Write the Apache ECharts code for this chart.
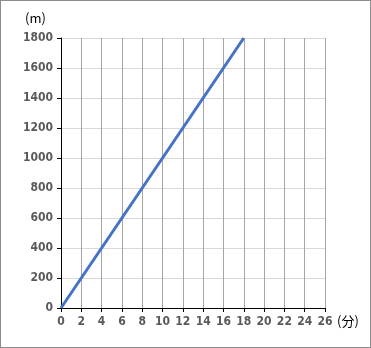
<!DOCTYPE html>
<html><head><meta charset="utf-8">
<script src="https://cdn.jsdelivr.net/npm/echarts@6/dist/echarts.min.js"></script>
<style>html,body{margin:0;padding:0;background:#fff}#c{width:371px;height:348px;box-sizing:border-box;border:1px solid #8c8c8c}</style>
</head><body><div id="c"></div>
<script>
const xValues = [0, 18];
const yValues = [0, 1800];
const xTicks = [0,2,4,6,8,10,12,14,16,18,20,22,24,26];
const yTicks = [0,200,400,600,800,1000,1200,1400,1600,1800];
const chart = echarts.init(document.getElementById('c'));
const lbl = {color:'#595959', fontSize:12, fontWeight:'bold', fontFamily:'DejaVu Sans Condensed, DejaVu Sans', formatter: v => String(v)};
chart.setOption({
  animation:false,
  grid:{left:60, right:45, top:37, bottom:39, containLabel:false},
  xAxis:{type:'value', min:0, max:26, interval:2,
    axisLine:{lineStyle:{color:'#000', width:1}},
    axisTick:{show:true, length:4, lineStyle:{color:'#000'}},
    axisLabel:Object.assign({margin:8},lbl),
    splitLine:{show:true, lineStyle:{color:'#a6a6a6', width:1}}
  },
  yAxis:{type:'value', min:0, max:1800, interval:200,
    axisLine:{show:true, lineStyle:{color:'#000', width:1}},
    axisTick:{show:true, length:4, lineStyle:{color:'#000'}},
    axisLabel:Object.assign({margin:8},lbl),
    splitLine:{show:true, lineStyle:{color:'#d9d9d9', width:1}}
  },
  graphic:[
    {type:'text', left:24, top:11, style:{text:'(m)', fill:'#000', font:'13px "Noto Sans CJK JP"'}},
    {type:'text', left:336, top:314, style:{text:'(分)', fill:'#000', font:'13px "Noto Sans CJK JP"'}}
  ],
  series:[{type:'line', data:xValues.map((x,i)=>[x,yValues[i]]), showSymbol:false,
    lineStyle:{color:'#4472C4', width:3}}]
});
</script></body></html>
